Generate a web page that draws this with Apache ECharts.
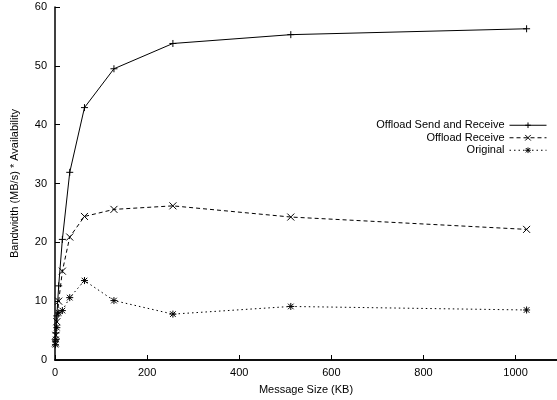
<!DOCTYPE html>
<html>
<head>
<meta charset="utf-8">
<script src="https://cdn.jsdelivr.net/npm/echarts@6/dist/echarts.min.js"></script>
<style>
  html, body { margin: 0; padding: 0; background: #fff; }
  #chart { width: 557px; height: 400px; }
</style>
</head>
<body>
<div id="chart"></div>
<script>
// message sizes in KB
const sizes = [1, 2, 4, 8, 16, 32, 64, 128, 256, 512, 1024];
const sendRecv = [3.2, 4.6, 7.5, 12.6, 20.5, 31.9, 42.9, 49.5, 53.8, 55.3, 56.3];
const recvOnly = [2.9, 4.2, 6.5, 10.0, 15.1, 20.9, 24.4, 25.6, 26.2, 24.3, 22.2];
const original = [2.6, 3.5, 5.5, 8.0, 8.4, 10.6, 13.5, 10.1, 7.8, 9.1, 8.5];
const seriesNames = ['Offload Send and Receive', 'Offload Receive', 'Original'];

const FONT = 'Liberation Sans, Arial, sans-serif';
const plusSym = 'path://M0,5L10,5M5,0L5,10';
const crossSym = 'path://M0,0L10,10M10,0L0,10';
const starSym = 'path://M0,5L10,5M5,0L5,10M1,1L9,9M9,1L1,9';

function pairs(vals) {
    return sizes.map((s, i) => [s, vals[i]]);
}

function mkSeries(name, vals, sym, dash) {
    return {
        name: name,
        type: 'line',
        data: pairs(vals),
        symbol: sym,
        symbolSize: 7,
        showAllSymbol: true,
        lineStyle: { color: '#000', width: 1, type: dash },
        itemStyle: { color: 'none', borderColor: '#000', borderWidth: 1 },
        emphasis: { disabled: true },
        animation: false
    };
}

const chart = echarts.init(document.getElementById('chart'));
chart.setOption({
    backgroundColor: '#fff',
    animation: false,
    grid: { left: 55, right: 0, top: 7, bottom: 37 },
    legend: {
        data: seriesNames,
        orient: 'vertical',
        right: 5,
        top: 114,
        align: 'right',
        itemWidth: 37,
        itemHeight: 7,
        itemGap: 0,
        itemStyle: { borderWidth: 1 },
        lineStyle: { width: 1 },
        textStyle: { fontFamily: FONT, fontSize: 11, color: '#000', lineHeight: 12.5, padding: [0, 0, 0, 0] }
    },
    xAxis: [{
        type: 'value',
        min: 0,
        max: 1090,
        interval: 200,
        name: 'Message Size (KB)',
        nameLocation: 'middle',
        nameGap: 24,
        nameTextStyle: { fontFamily: FONT, fontSize: 11, color: '#000' },
        axisLine: { onZero: false, lineStyle: { color: '#000', width: 1.5 } },
        axisTick: { inside: true, length: 5, lineStyle: { color: '#000' } },
        axisLabel: {
            fontFamily: FONT, fontSize: 11, color: '#000', margin: 7, showMaxLabel: false,
            formatter: v => String(v)
        },
        splitLine: { show: false }
    }, {
        type: 'value',
        position: 'top',
        min: 0,
        max: 1090,
        axisLine: { show: true, lineStyle: { color: '#000', width: 1.5 } },
        axisTick: { show: false },
        axisLabel: { show: false },
        splitLine: { show: false }
    }],
    yAxis: {
        type: 'value',
        min: 0,
        max: 60,
        interval: 10,
        name: 'Bandwidth (MB/s) * Availability',
        nameLocation: 'middle',
        nameGap: 35,
        nameTextStyle: { fontFamily: FONT, fontSize: 11, color: '#000' },
        axisLine: { show: true, lineStyle: { color: '#000', width: 1.5 } },
        axisTick: { show: true, inside: true, length: 5, lineStyle: { color: '#000' } },
        axisLabel: { fontFamily: FONT, fontSize: 11, color: '#000', margin: 8 },
        splitLine: { show: false }
    },
    series: [
        mkSeries(seriesNames[0], sendRecv, plusSym, 'solid'),
        mkSeries(seriesNames[1], recvOnly, crossSym, [4, 3]),
        mkSeries(seriesNames[2], original, starSym, [1.5, 3])
    ]
});
</script>
</body>
</html>
